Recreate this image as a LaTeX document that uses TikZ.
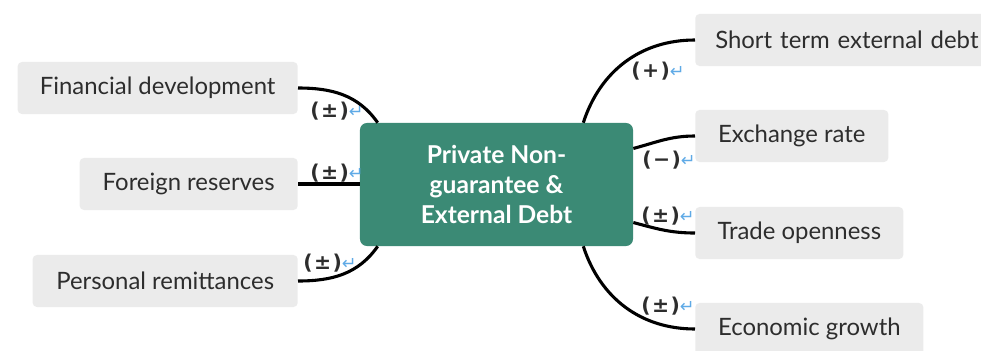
\documentclass[tikz,border=0pt]{standalone}
\usepackage{fontspec}
\setmainfont{Lato}
\newfontfamily\symfont{DejaVu Sans}
\usetikzlibrary{positioning}
\definecolor{teal}{RGB}{59,138,117}
\definecolor{boxgray}{RGB}{235,235,235}
\definecolor{textgray}{RGB}{45,45,45}
\definecolor{retblue}{RGB}{95,170,230}
\newcommand{\ret}{{\mdseries\color{retblue}\fontsize{12.5}{12}\selectfont ↵}}
\newcommand{\sgn}[1]{(\hspace{1pt}#1\hspace{1pt})\ret}

\begin{document}
\begin{tikzpicture}[x=0.025cm,y=-0.025cm,
    factor/.style={fill=boxgray,rounded corners=3pt,text=textgray,minimum height=1.3cm,inner xsep=0.5cm,font=\fontsize{17}{20}\selectfont},
    centre/.style={fill=teal,rounded corners=5pt,text=white,minimum width=6.825cm,minimum height=3.075cm,align=center,font=\bfseries\fontsize{17.5}{21.3}\selectfont},
    link/.style={line width=2.2pt,black},
    sign/.style={inner sep=0pt,text=textgray,font=\symfont\bfseries\fontsize{14.5}{15}\selectfont}]
  \useasboundingbox (0,0) rectangle (981,350);
  % middle
  \node[centre] (pnd) at (496.5,184.5) {Private Non-\\guarantee \&\\External Debt};
  % left side
  \node[factor, minimum width=7cm, anchor=east] (fd) at (298,88) {Financial development};
  \node[factor, minimum width=5.45cm, anchor=east] (fr) at (298,184) {Foreign reserves};
  \node[factor, minimum width=6.625cm, anchor=east] (pr) at (298,281) {Personal remittances};
  % right side
  \node[factor, anchor=west, text width=7.5cm, align=left] (st) at (695,40) {Short term external debt};
  \node[factor, minimum width=4.825cm, anchor=west] (er) at (695,136) {Exchange rate};
  \node[factor, minimum width=5.2cm, anchor=west] (to) at (695,233) {Trade openness};
  \node[factor, minimum width=5.7cm, anchor=west] (eg) at (695,329) {Economic growth};
  % links
  \draw[link] (fd.east) to[out=0,in=125] ([xshift=0.45cm]pnd.north west);
  \draw[link] (fr.east) -- (fr.east -| pnd.west);
  \draw[link] (pr.east) to[out=0,in=-125] ([xshift=0.45cm]pnd.south west);
  \draw[link] (st.west) to[out=180,in=72] ([xshift=-1.25cm]pnd.north east);
  \draw[link] (er.west) to[out=180,in=15] ([yshift=0.9cm]pnd.east);
  \draw[link] (to.west) to[out=180,in=-15] ([yshift=-0.95cm]pnd.east);
  \draw[link] (eg.west) to[out=180,in=-72] ([xshift=-1.25cm]pnd.south east);
  % signs
  \node[sign] (s1) at (337,111) {\sgn{±}};
  \node[sign] (s2) at (337,173) {\sgn{±}};
  \node[sign] (s3) at (330,263) {\sgn{±}};
  \node[sign] (s4) at (658,71) {\sgn{+}};
  \node[sign] (s5) at (669,160) {\sgn{−}};
  \node[sign] (s6) at (668,216) {\sgn{±}};
  \node[sign] (s7) at (668,306) {\sgn{±}};
\end{tikzpicture}
\end{document}
